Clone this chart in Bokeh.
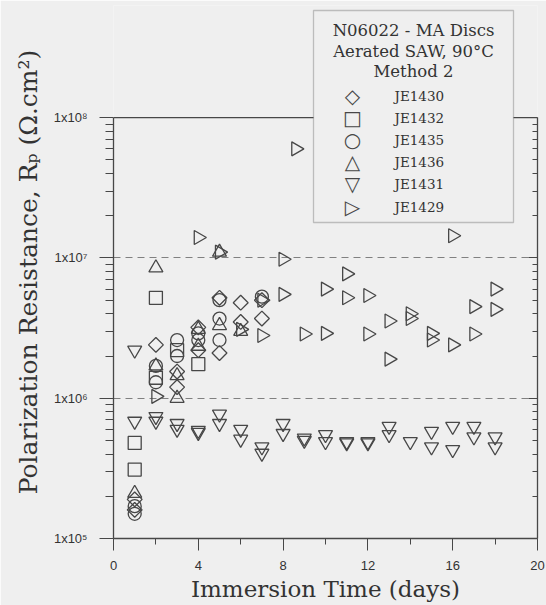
import math
from bokeh.plotting import figure
from bokeh.models import (Range1d, LogAxis, FixedTicker, CustomJSTickFormatter,
                          BoxAnnotation, Label, Span)
from bokeh.embed import file_html
from bokeh.resources import INLINE

# ---------------- data ----------------
je1430_days = [1, 1, 2, 3, 3, 4, 4, 5, 5, 6, 6, 7, 7]
je1430_rp = [1.9e5, 1.6e5, 2.4e6, 1.55e6, 1.2e6, 3.2e6, 2.2e6, 5.2e6, 2.1e6, 4.8e6, 3.5e6, 5.0e6, 3.7e6]

je1432_days = [1, 1, 2, 2, 3, 4]
je1432_rp = [4.8e5, 3.1e5, 5.2e6, 1.4e6, 2.2e6, 1.75e6]

je1435_days = [1, 1, 2, 2, 3, 3, 4, 4, 5, 5, 5, 7]
je1435_rp = [1.7e5, 1.5e5, 1.7e6, 1.3e6, 2.6e6, 2.0e6, 2.9e6, 2.6e6, 5.0e6, 3.7e6, 2.6e6, 5.3e6]

je1436_days = [1, 2, 2, 3, 3, 4, 4, 5, 5, 6]
je1436_rp = [2.1e5, 8.5e6, 1.7e6, 1.45e6, 1.0e6, 3.1e6, 2.35e6, 1.1e7, 3.3e6, 3.0e6]

je1431_days = [1, 1, 2, 2, 3, 3, 4, 4, 5, 5, 6, 6, 7, 7, 8, 8, 9, 9, 10, 10, 11, 11,
               12, 12, 13, 13, 14, 15, 15, 16, 16, 17, 17, 18, 18]
je1431_rp = [2.2e6, 6.85e5, 7.4e5, 6.85e5, 6.6e5, 6.0e5, 5.9e5, 5.7e5, 7.7e5, 6.6e5,
             6.0e5, 5.1e5, 4.5e5, 4.05e5, 6.6e5, 5.6e5, 5.2e5, 5.0e5, 5.5e5, 4.9e5,
             4.9e5, 4.8e5, 4.9e5, 4.8e5, 6.3e5, 5.5e5, 4.9e5, 5.8e5, 4.5e5, 6.3e5,
             4.3e5, 6.3e5, 5.3e5, 5.3e5, 4.5e5]

je1429_days = [2, 4, 5, 6, 7, 7, 8, 8, 8.6, 9, 10, 10, 11, 11, 12, 12, 13, 13,
               14, 14, 15, 15, 16, 16, 17, 17, 18, 18]
je1429_rp = [1.03e6, 1.4e7, 1.1e7, 3.1e6, 5.0e6, 2.8e6, 9.8e6, 5.5e6, 6.0e7, 2.87e6,
             6.0e6, 2.9e6, 7.7e6, 5.2e6, 5.4e6, 2.87e6, 3.55e6, 1.9e6, 4.0e6, 3.7e6,
             2.9e6, 2.6e6, 1.44e7, 2.4e6, 4.5e6, 2.87e6, 6.0e6, 4.3e6]

series_names = ["JE1430", "JE1432", "JE1435", "JE1436", "JE1431", "JE1429"]
legend_symbols = ["\u25C7", "\u25A1", "\u25CB", "\u25B3", "\u25BD", "\u25B7"]
title_lines = ["N06022 - MA Discs", "Aerated SAW, 90\u00B0C", "Method 2"]

x_major = [0, 4, 8, 12, 16, 20]
x_minor = [2, 6, 10, 14, 18]
y_major = [1e5, 1e6, 1e7, 1e8]
y_minor = [m * 10 ** e for e in (5, 6, 7) for m in range(2, 10)]
grid_lines = [1e6, 1e7]
y_lo, y_hi = 1e5, 1e8

x_title = "Immersion Time (days)"
y_title = "Polarization Resistance, R\u209A (\u03A9.cm\u00B2)"

# ---------------- style ----------------
BG = "#efefef"
INK = "#474747"
TXT = "#333333"
SERIF = "DejaVu Serif"
SANS = "Liberation Sans"

# frame runs from page y=5 to y=538; 1e8 sits 112 px below the frame top (140 px/decade)
y_top = 10 ** (8 + 112 / 140)

p = figure(width=546, height=605, y_axis_type="log",
           x_range=Range1d(0, 20), y_range=Range1d(y_lo, y_top),
           output_backend="svg", toolbar_location=None,
           min_border_left=113, min_border_right=9,
           min_border_top=5, min_border_bottom=67,
           background_fill_color=BG, border_fill_color=BG)
p.outline_line_color = None

mk = dict(fill_color=None, line_color=INK, line_width=1.3)
p.scatter(je1430_days, je1430_rp, marker="square", angle=math.pi / 4, size=10.5, **mk)
p.scatter(je1432_days, je1432_rp, marker="square", size=13, **mk)
p.scatter(je1435_days, je1435_rp, marker="circle", size=13, **mk)
p.scatter(je1436_days, je1436_rp, marker="triangle", size=14, **mk)
p.scatter(je1431_days, je1431_rp, marker="inverted_triangle", size=14, **mk)
p.scatter(je1429_days, je1429_rp, marker="triangle", angle=-math.pi / 2, size=14, **mk)

# grid
p.xgrid.visible = False
p.ygrid.ticker = FixedTicker(ticks=grid_lines)
p.ygrid.grid_line_color = "#808080"
p.ygrid.grid_line_dash = "7 5"
p.ygrid.grid_line_width = 1.2

# x axis
xa = p.xaxis[0]
xa.ticker = FixedTicker(ticks=x_major, minor_ticks=x_minor)
xa.major_tick_in = 0
xa.major_tick_out = 12
xa.minor_tick_in = 0
xa.minor_tick_out = 6
xa.axis_line_color = INK
xa.axis_line_width = 1.3
xa.major_tick_line_color = INK
xa.minor_tick_line_color = INK
xa.major_label_text_font = SANS
xa.major_label_text_font_size = "13px"
xa.major_label_text_color = TXT
xa.major_label_standoff = 10
xa.axis_label = x_title
xa.axis_label_text_font = SERIF
xa.axis_label_text_font_size = "23px"
xa.axis_label_text_font_style = "normal"
xa.axis_label_text_color = TXT
xa.axis_label_standoff = 3

# y axis (ticks + labels, limited to 1e5..1e8)
ya = p.yaxis[0]
ya.bounds = (y_lo, y_hi)
ya.ticker = FixedTicker(ticks=y_major, minor_ticks=y_minor)
ya.formatter = CustomJSTickFormatter(code="""
const e = Math.round(Math.log10(tick));
const sup = {5: '\u2075', 6: '\u2076', 7: '\u2077', 8: '\u2078'};
return '1x10' + sup[e];
""")
ya.major_tick_in = 0
ya.major_tick_out = 14
ya.minor_tick_in = 0
ya.minor_tick_out = 8
ya.axis_line_color = INK
ya.axis_line_width = 1.3
ya.major_tick_line_color = INK
ya.minor_tick_line_color = INK
ya.major_label_text_font = SANS
ya.major_label_text_font_size = "13px"
ya.major_label_text_color = TXT
ya.major_label_standoff = 12

# outer left axis: carries only the title
ta = LogAxis(ticker=FixedTicker(ticks=[]), axis_line_color=None,
             major_tick_in=0, major_tick_out=0, minor_tick_in=0, minor_tick_out=0,
             major_label_standoff=0, major_label_text_font_size="0px",
             axis_label=y_title, axis_label_text_font=SERIF,
             axis_label_text_font_size="25px", axis_label_text_font_style="normal",
             axis_label_text_color=TXT, axis_label_standoff=8)
p.add_layout(ta, "left")

# right axis: inward ticks, no labels
ra = LogAxis(bounds=(y_lo, y_hi), ticker=FixedTicker(ticks=y_major, minor_ticks=y_minor),
             formatter=CustomJSTickFormatter(code="return '';"),
             major_tick_in=9, major_tick_out=0, minor_tick_in=5, minor_tick_out=0,
             major_label_standoff=0, axis_line_color=INK, axis_line_width=1.3,
             major_tick_line_color=INK, minor_tick_line_color=INK,
             major_label_text_font_size="0px")
p.add_layout(ra, "right")

# top border of the plotting area at 1e8
p.add_layout(Span(location=y_hi, dimension="width", line_color=INK, line_width=1.3))

# legend box (drawn by hand, in frame pixel units)
p.add_layout(BoxAnnotation(left=200, right=400, bottom=316, top=528,
                           left_units="screen", right_units="screen",
                           bottom_units="screen", top_units="screen",
                           fill_color=BG, fill_alpha=1.0,
                           line_color=INK, line_width=1.3))
for i, t in enumerate(title_lines):
    p.add_layout(Label(x=300, y=508 - 20.5 * i, x_units="screen", y_units="screen",
                       text=t, text_align="center", text_baseline="middle",
                       text_font=SERIF, text_font_size="16.5px", text_color=TXT))
for i, (sym, name) in enumerate(zip(legend_symbols, series_names)):
    yy = 443 - 22.2 * i
    p.add_layout(Label(x=239, y=yy, x_units="screen", y_units="screen",
                       text=sym, text_align="center", text_baseline="middle",
                       text_font="DejaVu Sans", text_font_size="20px", text_color=INK))
    p.add_layout(Label(x=281, y=yy, x_units="screen", y_units="screen",
                       text=name, text_align="left", text_baseline="middle",
                       text_font=SERIF, text_font_size="13.5px", text_color=TXT))

open("out.html", "w").write(file_html(p, INLINE))
